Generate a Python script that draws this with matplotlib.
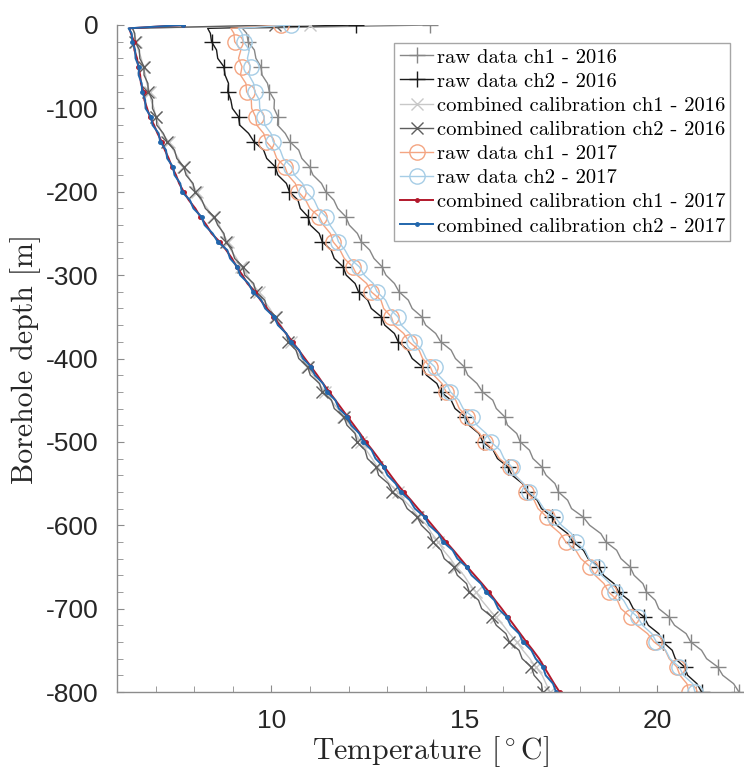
import matplotlib
matplotlib.use("Agg")
import matplotlib.pyplot as plt
from matplotlib.ticker import MultipleLocator

plt.rcParams['axes.unicode_minus'] = False
plt.rcParams['mathtext.fontset'] = 'cm'

# borehole depth [m], surface point first
depth = [0, -4,
         -10, -20, -30, -40, -50, -60, -70, -80, -90, -100,
         -110, -120, -130, -140, -150, -160, -170, -180, -190, -200,
         -210, -220, -230, -240, -250, -260, -270, -280, -290, -300,
         -310, -320, -330, -340, -350, -360, -370, -380, -390, -400,
         -410, -420, -430, -440, -450, -460, -470, -480, -490, -500,
         -510, -520, -530, -540, -550, -560, -570, -580, -590, -600,
         -610, -620, -630, -640, -650, -660, -670, -680, -690, -700,
         -710, -720, -730, -740, -750, -760, -770, -780, -790, -800]

raw_ch1_2016 = [14.10, 9.25,
                9.36, 9.40, 9.56, 9.60, 9.73, 9.76, 9.90, 9.95, 10.08, 10.07,
                10.17, 10.16, 10.36, 10.48, 10.71, 10.79, 10.99, 11.08, 11.30, 11.41,
                11.62, 11.72, 11.93, 12.02, 12.23, 12.33, 12.55, 12.66, 12.87, 12.97,
                13.19, 13.31, 13.55, 13.65, 13.90, 14.00, 14.26, 14.39, 14.66, 14.77,
                15.00, 15.09, 15.33, 15.47, 15.74, 15.83, 16.05, 16.12, 16.36, 16.45,
                16.69, 16.78, 17.01, 17.12, 17.35, 17.44, 17.68, 17.78, 18.08, 18.25,
                18.54, 18.67, 18.95, 19.06, 19.30, 19.40, 19.63, 19.72, 19.95, 20.04,
                20.31, 20.45, 20.75, 20.87, 21.15, 21.28, 21.57, 21.70, 21.98, 22.12]

raw_ch2_2016 = [12.20, 8.35,
                8.42, 8.45, 8.58, 8.61, 8.77, 8.80, 8.89, 8.87, 8.95, 8.99,
                9.15, 9.18, 9.41, 9.55, 9.80, 9.88, 10.10, 10.17, 10.39, 10.47,
                10.69, 10.75, 10.95, 11.01, 11.24, 11.32, 11.55, 11.63, 11.86, 11.94,
                12.17, 12.26, 12.50, 12.59, 12.85, 12.94, 13.19, 13.29, 13.54, 13.65,
                13.91, 14.02, 14.29, 14.39, 14.66, 14.76, 15.02, 15.12, 15.38, 15.48,
                15.75, 15.86, 16.13, 16.24, 16.51, 16.62, 16.89, 17.00, 17.28, 17.40,
                17.68, 17.81, 18.09, 18.21, 18.49, 18.61, 18.88, 19.00, 19.27, 19.38,
                19.66, 19.77, 20.04, 20.15, 20.39, 20.47, 20.71, 20.79, 21.03, 21.15]

cal_ch1_2016 = [11.00, 6.42,
                6.44, 6.50, 6.55, 6.63, 6.67, 6.74, 6.77, 6.85, 6.88, 6.96,
                7.00, 7.08, 7.17, 7.34, 7.46, 7.59, 7.70, 7.83, 7.94, 8.07,
                8.17, 8.34, 8.49, 8.65, 8.74, 8.87, 8.95, 9.10, 9.22, 9.37,
                9.50, 9.67, 9.80, 9.96, 10.09, 10.25, 10.37, 10.51, 10.63, 10.79,
                10.92, 11.09, 11.23, 11.40, 11.54, 11.72, 11.86, 12.04, 12.18, 12.32,
                12.46, 12.61, 12.75, 12.91, 13.06, 13.27, 13.44, 13.65, 13.81, 14.03,
                14.16, 14.33, 14.46, 14.64, 14.79, 14.99, 15.13, 15.30, 15.45, 15.63,
                15.81, 16.01, 16.17, 16.36, 16.52, 16.70, 16.85, 17.02, 17.12, 17.22]

cal_ch2_2016 = [10.10, 6.40,
                6.46, 6.47, 6.58, 6.59, 6.70, 6.70, 6.80, 6.81, 6.92, 6.92,
                7.02, 7.03, 7.20, 7.30, 7.49, 7.55, 7.73, 7.79, 7.97, 8.02,
                8.20, 8.29, 8.52, 8.61, 8.77, 8.82, 8.98, 9.05, 9.26, 9.31,
                9.54, 9.60, 9.83, 9.89, 10.12, 10.18, 10.39, 10.44, 10.64, 10.71,
                10.94, 11.01, 11.25, 11.32, 11.56, 11.63, 11.88, 11.96, 12.17, 12.22,
                12.43, 12.49, 12.72, 12.78, 13.03, 13.14, 13.41, 13.52, 13.78, 13.89,
                14.11, 14.18, 14.40, 14.48, 14.73, 14.82, 15.06, 15.13, 15.37, 15.45,
                15.72, 15.83, 16.08, 16.17, 16.42, 16.50, 16.74, 16.81, 17.00, 17.03]

raw_ch1_2017 = [10.25, 8.95,
                9.03, 9.05, 9.21, 9.15, 9.24, 9.20, 9.34, 9.36, 9.48, 9.49,
                9.59, 9.62, 9.80, 9.87, 10.06, 10.14, 10.35, 10.43, 10.62, 10.70,
                10.89, 11.00, 11.24, 11.35, 11.53, 11.60, 11.78, 11.89, 12.11, 12.22,
                12.47, 12.59, 12.84, 12.91, 13.11, 13.18, 13.43, 13.57, 13.83, 13.92,
                14.12, 14.21, 14.42, 14.53, 14.78, 14.87, 15.07, 15.16, 15.40, 15.53,
                15.77, 15.91, 16.18, 16.32, 16.52, 16.61, 16.81, 16.91, 17.14, 17.24,
                17.49, 17.63, 17.89, 18.02, 18.27, 18.39, 18.62, 18.74, 18.97, 19.06,
                19.31, 19.47, 19.75, 19.92, 20.21, 20.31, 20.51, 20.59, 20.77, 20.82]

raw_ch2_2017 = [10.50, 9.15,
                9.24, 9.28, 9.43, 9.38, 9.46, 9.42, 9.54, 9.57, 9.69, 9.70,
                9.81, 9.83, 9.99, 10.05, 10.23, 10.31, 10.52, 10.60, 10.81, 10.90,
                11.11, 11.21, 11.42, 11.52, 11.67, 11.74, 11.91, 12.03, 12.28, 12.41,
                12.64, 12.74, 12.96, 13.06, 13.28, 13.37, 13.59, 13.69, 13.91, 14.01,
                14.23, 14.33, 14.54, 14.64, 14.86, 14.97, 15.21, 15.33, 15.57, 15.69,
                15.93, 16.03, 16.23, 16.31, 16.54, 16.67, 16.92, 17.06, 17.35, 17.52,
                17.78, 17.89, 18.13, 18.23, 18.45, 18.56, 18.78, 18.90, 19.13, 19.25,
                19.49, 19.62, 19.86, 19.98, 20.22, 20.33, 20.57, 20.68, 20.92, 20.98]

cal_ch1_2017 = [7.70, 6.32,
                6.36, 6.44, 6.45, 6.52, 6.55, 6.60, 6.62, 6.69, 6.71, 6.78,
                6.85, 6.96, 7.05, 7.16, 7.24, 7.34, 7.42, 7.53, 7.61, 7.73,
                7.86, 8.03, 8.16, 8.32, 8.45, 8.66, 8.83, 8.98, 9.10, 9.25,
                9.38, 9.57, 9.72, 9.89, 10.05, 10.22, 10.38, 10.55, 10.71, 10.87,
                11.03, 11.19, 11.34, 11.50, 11.66, 11.82, 11.98, 12.14, 12.30, 12.45,
                12.62, 12.78, 12.93, 13.09, 13.25, 13.43, 13.62, 13.80, 13.99, 14.17,
                14.35, 14.53, 14.72, 14.90, 15.08, 15.27, 15.46, 15.64, 15.80, 15.97,
                16.13, 16.29, 16.45, 16.61, 16.78, 16.94, 17.07, 17.20, 17.33, 17.47]

cal_ch2_2017 = [7.70, 6.30,
                6.38, 6.40, 6.47, 6.48, 6.57, 6.56, 6.64, 6.65, 6.73, 6.74,
                6.88, 6.92, 7.08, 7.12, 7.27, 7.30, 7.45, 7.49, 7.64, 7.68,
                7.89, 7.98, 8.19, 8.27, 8.48, 8.61, 8.86, 8.93, 9.12, 9.19,
                9.41, 9.52, 9.74, 9.84, 10.07, 10.17, 10.39, 10.50, 10.72, 10.82,
                11.03, 11.13, 11.34, 11.44, 11.66, 11.75, 11.97, 12.07, 12.28, 12.38,
                12.60, 12.70, 12.91, 13.01, 13.22, 13.35, 13.59, 13.72, 13.97, 14.09,
                14.33, 14.45, 14.70, 14.82, 15.06, 15.19, 15.43, 15.56, 15.78, 15.88,
                16.10, 16.20, 16.42, 16.52, 16.74, 16.85, 17.04, 17.11, 17.30, 17.38]

labels = ['raw data ch1 - 2016', 'raw data ch2 - 2016',
          'combined calibration ch1 - 2016', 'combined calibration ch2 - 2016',
          'raw data ch1 - 2017', 'raw data ch2 - 2017',
          'combined calibration ch1 - 2017', 'combined calibration ch2 - 2017']

fig = plt.figure(figsize=(7.44, 7.69), dpi=100)
ax = fig.add_axes([117/744, 1 - 692/769, 627/744, 667/769])

ax.plot(raw_ch1_2016, depth, '-', color='#878787', lw=1.0, marker='+', ms=11, mew=1.0, markevery=3, label=labels[0])
ax.plot(raw_ch2_2016, depth, '-', color='#1a1a1a', lw=1.0, marker='+', ms=11, mew=1.0, markevery=3, label=labels[1])
ax.plot(cal_ch1_2016, depth, '-', color='#c8c8c8', lw=1.0, marker='x', ms=8, mew=1.0, markevery=3, label=labels[2])
ax.plot(cal_ch2_2016, depth, '-', color='#5e5e5e', lw=1.0, marker='x', ms=8, mew=1.0, markevery=3, label=labels[3])
ax.plot(raw_ch1_2017, depth, '-', color='#f4a582', lw=1.0, marker='o', ms=11, mfc='none', mew=1.0, markevery=3, label=labels[4])
ax.plot(raw_ch2_2017, depth, '-', color='#a6cde6', lw=1.0, marker='o', ms=11, mfc='none', mew=1.0, markevery=3, label=labels[5])
ax.plot(cal_ch1_2017, depth, '-', color='#b2182b', lw=1.4, marker='.', ms=5, markevery=3, label=labels[6])
ax.plot(cal_ch2_2017, depth, '-', color='#2166ac', lw=1.4, marker='.', ms=5, markevery=3, label=labels[7])

ax.set_xlim(6, 22.25)
ax.set_ylim(-800, 0)
ax.xaxis.set_major_locator(MultipleLocator(5))
ax.xaxis.set_minor_locator(MultipleLocator(1))
ax.yaxis.set_major_locator(MultipleLocator(100))
ax.yaxis.set_minor_locator(MultipleLocator(20))
ax.set_xticks([10, 15, 20])

for s in ['top', 'right']:
    ax.spines[s].set_visible(False)
for s in ['left', 'bottom']:
    ax.spines[s].set_color('#8c8c8c')
    ax.spines[s].set_linewidth(1.0)
ax.tick_params(which='both', direction='in', color='#8c8c8c', labelcolor='#262626')
ax.tick_params(which='major', length=5, labelsize=19)
ax.tick_params(axis='y', which='major', pad=13)
ax.tick_params(axis='x', which='major', pad=12)
ax.tick_params(which='minor', length=4)
for t in ax.get_xticklabels() + ax.get_yticklabels():
    t.set_fontfamily('Liberation Sans')

ax.set_xlabel(r'Temperature $[^\circ\mathrm{C}]$', fontfamily='cmr10', fontsize=21.5, color='#262626', labelpad=1)
ax.set_ylabel('Borehole depth [m]', fontfamily='cmr10', fontsize=21.5, color='#262626', labelpad=4)

leg = ax.legend(loc='upper right', bbox_to_anchor=(0.978, 0.973), prop={'family': 'cmr10', 'size': 14.8},
                frameon=True, fancybox=False, framealpha=1, edgecolor='#a6a6a6',
                borderpad=0.25, handlelength=1.65, handletextpad=0.15, labelspacing=0.28,
                borderaxespad=0, numpoints=1)
leg.get_frame().set_linewidth(1.0)

plt.savefig('out.png', dpi=100)
